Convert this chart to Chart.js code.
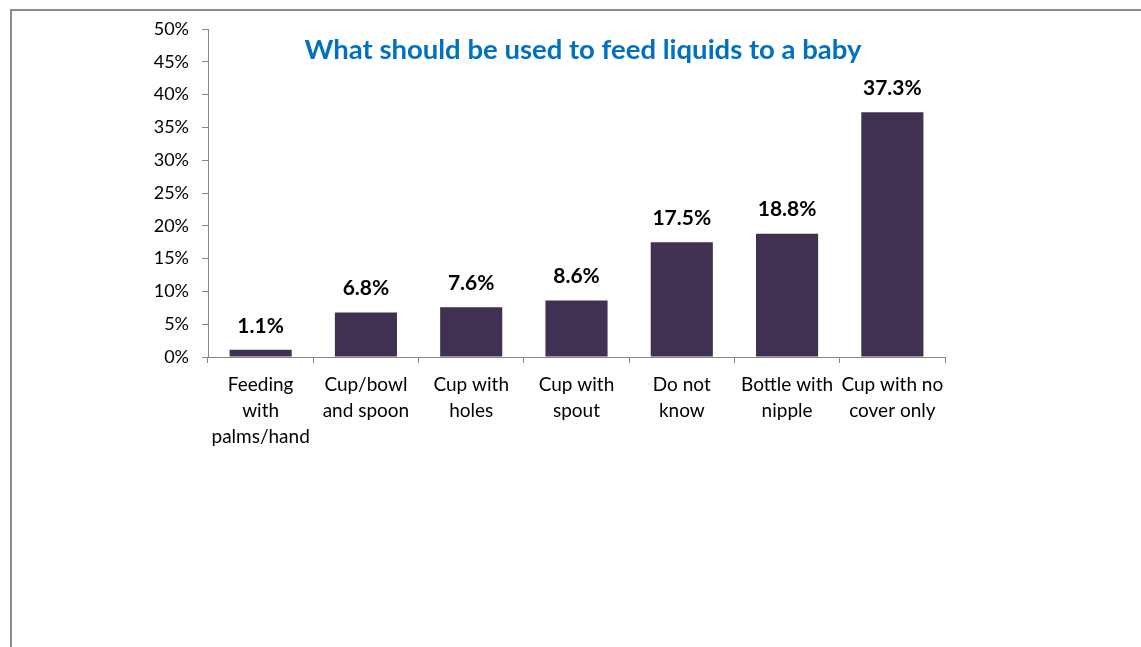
<!DOCTYPE html>
<html>
<head>
<meta charset="utf-8">
<script src="https://cdn.jsdelivr.net/npm/chart.js@4/dist/chart.umd.min.js"></script>
<style>
  html, body { margin: 0; padding: 0; background: #fff; overflow: hidden; }
  #frame {
    position: absolute; left: 10px; top: 9px; right: 0; bottom: 0;
    border-top: 2px solid #8c8c8c; border-left: 2px solid #8c8c8c;
  }
  #wrap { position: absolute; left: 0; top: 0; width: 1141px; height: 647px; }
</style>
</head>
<body>
<div id="frame"></div>
<div id="wrap"><canvas id="c" width="1141" height="647"></canvas></div>
<script>
const chartTitle = 'What should be used to feed liquids to a baby';
const categories = [
  ['Feeding', 'with', 'palms/hand'],
  ['Cup/bowl', 'and spoon'],
  ['Cup with', 'holes'],
  ['Cup with', 'spout'],
  ['Do not', 'know'],
  ['Bottle with', 'nipple'],
  ['Cup with no', 'cover only']
];
const shares = [1.1, 6.8, 7.6, 8.6, 17.5, 18.8, 37.3];
const yTicks = [0, 5, 10, 15, 20, 25, 30, 35, 40, 45, 50];

const FONT = 'Lato, "Open Sans", sans-serif';

const valueLabels = {
  id: 'valueLabels',
  afterDatasetsDraw(chart) {
    const ctx = chart.ctx;
    const meta = chart.getDatasetMeta(0);
    ctx.save();
    ctx.font = 'bold 21px ' + FONT;
    ctx.fillStyle = '#000';
    ctx.textAlign = 'center';
    ctx.textBaseline = 'middle';
    meta.data.forEach((bar, i) => {
      ctx.fillText(shares[i].toFixed(1) + '%', bar.x, bar.y - 24);
    });
    ctx.restore();
  }
};

const innerTitle = {
  id: 'innerTitle',
  afterDraw(chart) {
    const ctx = chart.ctx;
    ctx.save();
    ctx.font = 'bold 27.5px ' + FONT;
    ctx.fillStyle = '#0070C0';
    ctx.textAlign = 'center';
    ctx.textBaseline = 'middle';
    ctx.fillText(chartTitle, 583, 50);
    ctx.restore();
  }
};

new Chart(document.getElementById('c'), {
  type: 'bar',
  data: {
    labels: categories,
    datasets: [{
      data: shares,
      backgroundColor: '#403152',
      borderWidth: 0,
      categoryPercentage: 1,
      barPercentage: 0.59
    }]
  },
  options: {
    responsive: false,
    animation: false,
    layout: { padding: { left: 0, top: 29, right: 196, bottom: 0 } },
    plugins: { legend: { display: false }, tooltip: { enabled: false } },
    scales: {
      x: {
        grid: { display: true, drawOnChartArea: false, drawTicks: true, tickLength: 6, color: '#868686', offset: true },
        border: { display: true, color: '#868686', width: 1 },
        ticks: { color: '#000', font: { family: FONT, size: 19, lineHeight: 1.37 }, padding: 9, maxRotation: 0, autoSkip: false },
        afterFit(scale) { scale.height = 290; }
      },
      y: {
        min: 0, max: 50,
        afterBuildTicks(scale) { scale.ticks = yTicks.map(v => ({ value: v })); },
        grid: { display: true, drawOnChartArea: false, drawTicks: true, tickLength: 6, color: '#868686' },
        border: { display: true, color: '#868686', width: 1 },
        ticks: { color: '#000', font: { family: FONT, size: 18 }, padding: 13, callback: v => v + '%' },
        afterFit(scale) { scale.width = 208; }
      }
    }
  },
  plugins: [valueLabels, innerTitle]
});
</script>
</body>
</html>
